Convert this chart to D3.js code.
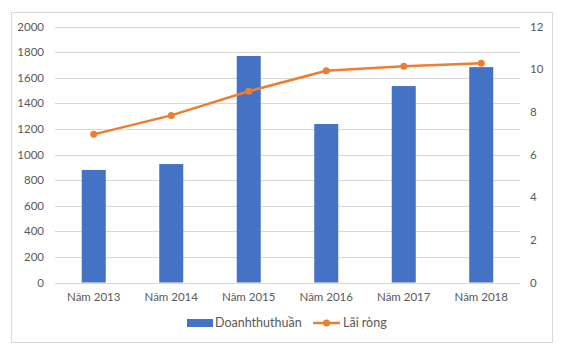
<!DOCTYPE html>
<html><head><meta charset="utf-8">
<script src="https://cdn.jsdelivr.net/npm/d3@7"></script>
<style>body{margin:0;background:#fff}svg{display:block}text{font-family:Lato,"Open Sans",sans-serif;fill:#595959}</style>
</head><body><svg id="c" width="565" height="360"></svg>
<script>
const categories=["Năm 2013","Năm 2014","Năm 2015","Năm 2016","Năm 2017","Năm 2018"];
const revenue=[880,926,1771,1239,1536,1684];
const profit=[6.95,7.84,8.97,9.93,10.15,10.28];
const leftTicks=[0,200,400,600,800,1000,1200,1400,1600,1800,2000];
const rightTicks=[0,2,4,6,8,10,12];
const seriesNames=["Doanhthuthuần","Lãi ròng"];

const svg=d3.select("#c");
svg.append("rect").attr("x",11.5).attr("y",12.5).attr("width",541).attr("height",330).attr("fill","#fff").attr("stroke","#d9d9d9");
const L=55,R=520,T=26.7,B=282.5;
const xc=d3.scaleBand().domain(categories).range([L,R]);
const yL=d3.scaleLinear().domain([0,2000]).range([B,T]);
const yR=d3.scaleLinear().domain([0,12]).range([B,T]);
const g=svg.append("g");
g.selectAll("line.grid").data(leftTicks).join("line").attr("x1",L).attr("x2",R)
 .attr("y1",d=>Math.round(yL(d))+0.5).attr("y2",d=>Math.round(yL(d))+0.5).attr("stroke","#d9d9d9").attr("stroke-width",1);
g.selectAll("text.yl").data(leftTicks).join("text").attr("x",44).attr("y",d=>yL(d)).attr("dy","0.35em")
 .attr("text-anchor","end").attr("font-size",11.5).text(d=>d);
g.selectAll("text.yr").data(rightTicks).join("text").attr("x",530).attr("y",d=>yR(d)).attr("dy","0.35em")
 .attr("text-anchor","start").attr("font-size",11.5).text(d=>d);
const bw=24;
g.selectAll("rect.bar").data(revenue).join("rect").attr("x",(d,i)=>xc(categories[i])+xc.bandwidth()/2-bw/2)
 .attr("width",bw).attr("y",d=>yL(d)).attr("height",d=>B-yL(d)).attr("fill","#4472C4");
g.selectAll("text.xl").data(categories).join("text").attr("x",d=>xc(d)+xc.bandwidth()/2).attr("y",297).attr("dy","0.35em")
 .attr("text-anchor","middle").attr("font-size",11.5).text(d=>d);
const line=d3.line().x((d,i)=>xc(categories[i])+xc.bandwidth()/2).y(d=>yR(d));
g.append("path").datum(profit).attr("d",line).attr("fill","none").attr("stroke","#ED7D31").attr("stroke-width",2.5).attr("stroke-linejoin","round");
g.selectAll("circle").data(profit).join("circle").attr("cx",(d,i)=>xc(categories[i])+xc.bandwidth()/2).attr("cy",d=>yR(d)).attr("r",3.5).attr("fill","#ED7D31");
// legend
const lg=svg.append("g");
lg.append("rect").attr("x",187).attr("y",319).attr("width",26).attr("height",8).attr("fill","#4472C4");
lg.append("text").attr("x",215).attr("y",323).attr("dy","0.35em").attr("font-size",12.5).text(seriesNames[0]);
lg.append("line").attr("x1",313).attr("x2",340).attr("y1",323).attr("y2",323).attr("stroke","#ED7D31").attr("stroke-width",2.5);
lg.append("circle").attr("cx",326.5).attr("cy",323).attr("r",3.5).attr("fill","#ED7D31");
lg.append("text").attr("x",343).attr("y",323).attr("dy","0.35em").attr("font-size",12.5).text(seriesNames[1]);
</script></body></html>
